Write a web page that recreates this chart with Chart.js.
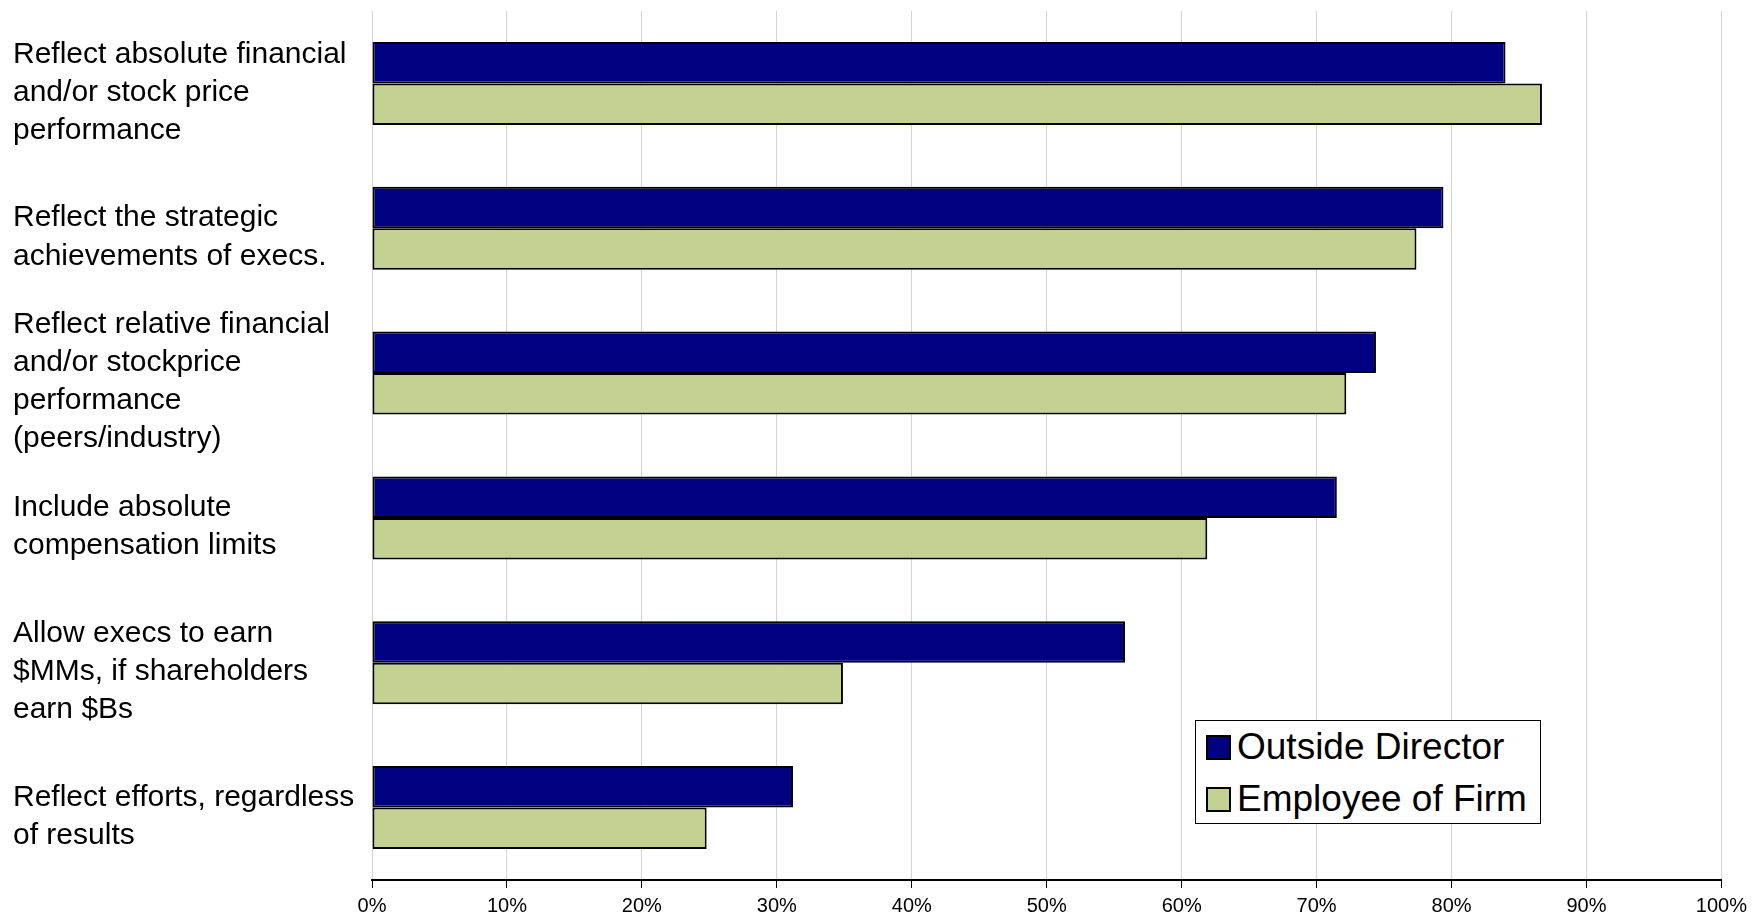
<!DOCTYPE html>
<html>
<head>
<meta charset="utf-8">
<title>Exec pay views</title>
<script src="https://cdn.jsdelivr.net/npm/chart.js@4"></script>
<style>
  body { margin: 0; background: #fff; }
  #wrap { position: relative; width: 1753px; height: 924px; }
  #legend {
    position: absolute; left: 1195px; top: 720px; width: 346px; height: 104px;
    border: 1px solid #000; background: #fff; box-sizing: border-box;
    font-family: "Liberation Sans", Arial, sans-serif; font-size: 37px; color: #000;
  }
  #legend .item { position: absolute; left: 10px; height: 40px; line-height: 40px; white-space: nowrap; }
  #legend .box { display: inline-block; width: 21px; height: 21px; border: 2px solid #000; vertical-align: -1px; margin-right: 6px; }
</style>
</head>
<body>
<div id="wrap">
  <canvas id="chart" width="1753" height="924"></canvas>
  <div id="legend"></div>
</div>
<script>
const categories = [
    ['Reflect absolute financial', 'and/or stock price', 'performance'],
    ['Reflect the strategic', 'achievements of execs.'],
    ['Reflect relative financial', 'and/or stockprice', 'performance', '(peers/industry)'],
    ['Include absolute', 'compensation limits'],
    ['Allow execs to earn', '$MMs, if shareholders', 'earn $Bs'],
    ['Reflect efforts, regardless', 'of results']
];
const outsideDirector = [84.0, 79.4, 74.4, 71.5, 55.8, 31.2];
const employeeOfFirm = [86.7, 77.4, 72.2, 61.9, 34.9, 24.8];
const seriesNames = ['Outside Director', 'Employee of Firm'];
const seriesColors = ['#000080', '#c4d192'];

const font = '"Liberation Sans", Arial, sans-serif';

const ctx = document.getElementById('chart').getContext('2d');
new Chart(ctx, {
    type: 'bar',
    data: {
        labels: categories,
        datasets: [
            {
                label: seriesNames[0],
                data: outsideDirector,
                backgroundColor: seriesColors[0],
                borderColor: '#000',
                borderWidth: 2,
                borderSkipped: false
            },
            {
                label: seriesNames[1],
                data: employeeOfFirm,
                backgroundColor: seriesColors[1],
                borderColor: '#000',
                borderWidth: 2,
                borderSkipped: false
            }
        ]
    },
    options: {
        indexAxis: 'y',
        responsive: false,
        animation: false,
        layout: { padding: { left: 13, top: 11, right: 30, bottom: 0 } },
        datasets: { bar: { categoryPercentage: 0.573, barPercentage: 1.0 } },
        plugins: {
            legend: { display: false },
            tooltip: { enabled: false }
        },
        scales: {
            x: {
                min: 0,
                max: 100,
                ticks: {
                    stepSize: 10,
                    padding: 6,
                    color: '#000',
                    font: { family: font, size: 20 },
                    callback: v => v + '%'
                },
                grid: { color: '#d4d4d4', lineWidth: 1, tickColor: '#000', tickLength: 8 },
                border: { color: '#000', width: 2 }
            },
            y: {
                ticks: {
                    autoSkip: false,
                    crossAlign: 'far',
                    labelOffset: 9,
                    color: '#000',
                    font: { family: font, size: 30, lineHeight: 1.27 }
                },
                grid: { display: false },
                border: { display: false },
                // keep the plot area from shrinking for the tall labels
                afterFit: scale => {
                    scale.width = 359;
                    scale.paddingTop = 0;
                    scale.paddingBottom = 0;
                }
            }
        }
    }
});

const legend = document.getElementById('legend');
seriesNames.forEach((name, i) => {
    const item = document.createElement('div');
    item.className = 'item';
    item.style.top = (6 + i * 52) + 'px';
    item.innerHTML = '<span class="box" style="background:' + seriesColors[i] + '"></span>' + name;
    legend.appendChild(item);
});
</script>
</body>
</html>
